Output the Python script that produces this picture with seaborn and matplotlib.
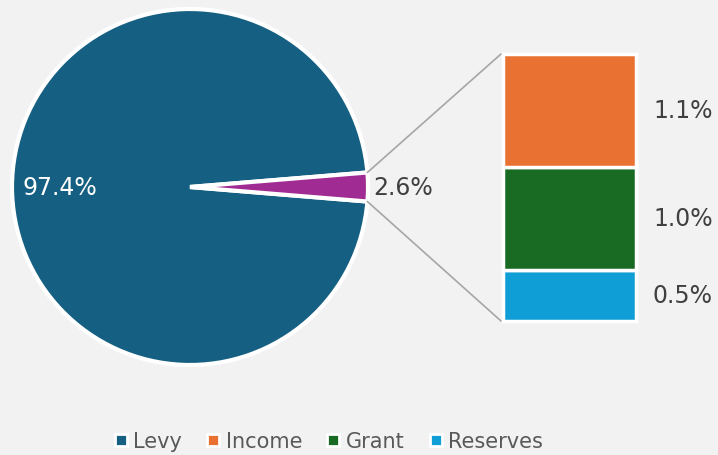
import matplotlib
matplotlib.use("Agg")
import matplotlib.pyplot as plt
from matplotlib.lines import Line2D
import numpy as np
import seaborn as sns

# data
pie_labels = ["Levy", "Other"]
pie_values = [97.4, 2.6]
bar_labels = ["Reserves", "Grant", "Income"]   # bottom to top
bar_values = [0.5, 1.0, 1.1]
legend_order = ["Levy", "Income", "Grant", "Reserves"]

colors = {"Levy": "#156082", "Other": "#A02B93", "Income": "#E97132",
          "Grant": "#196B24", "Reserves": "#0F9ED5"}

sns.set_theme(style="white", rc={"figure.facecolor": "#f2f2f2",
                                  "axes.facecolor": "#f2f2f2"})
plt.rcParams["font.family"] = ["DejaVu Sans"]

W, H = 718, 456
fig = plt.figure(figsize=(W / 100, H / 100), dpi=100)
ax = fig.add_axes([0, 0, 1, 1])

# pie (pixel coordinates, y measured from bottom)
cx, cy, r = 190, H - 188, 178
other_angle = pie_values[1] / sum(pie_values) * 360
start = other_angle / 2
ax.pie(pie_values, colors=[colors[k] for k in pie_labels], startangle=start,
       center=(cx, cy), radius=r, frame=True,
       wedgeprops=dict(edgecolor="white", linewidth=3))
ax.set_xlim(0, W)
ax.set_ylim(0, H)
ax.axis("off")

ax.text(22, cy, f"{pie_values[0]:.1f}%", color="white", fontsize=17,
        ha="left", va="center")
ax.text(373, cy, f"{pie_values[1]:.1f}%", color="#404040", fontsize=17,
        ha="left", va="center")

# stacked bar
bx, bw = 569.5, 133
b_bottom = H - 322
scale = 267 / sum(bar_values)
bottom = b_bottom
for lab, v in zip(bar_labels, bar_values):
    h = v * scale
    ax.bar(bx, h, width=bw, bottom=bottom, color=colors[lab],
           edgecolor="white", linewidth=2.5)
    ax.text(653, bottom + h / 2, f"{v:.1f}%", color="#404040", fontsize=17,
            ha="left", va="center")
    bottom += h
b_top = bottom

# connector lines
a = np.deg2rad(start)
ax.plot([cx + r * np.cos(a), bx - bw / 2 - 2], [cy + r * np.sin(a), b_top],
        color="#a6a6a6", lw=1.2)
ax.plot([cx + r * np.cos(a), bx - bw / 2 - 2], [cy - r * np.sin(a), b_bottom],
        color="#a6a6a6", lw=1.2)

handles = [Line2D([], [], marker="s", ls="", markersize=9,
                  markerfacecolor=colors[k], markeredgecolor="white",
                  markeredgewidth=2) for k in legend_order]
fig.legend(handles, legend_order, loc="center", ncol=4, frameon=False,
           bbox_to_anchor=(0.458, 0.03), fontsize=15, handlelength=0.6,
           handletextpad=0.3, columnspacing=1.2, labelcolor="#595959")

fig.savefig("out.png", dpi=100, facecolor=fig.get_facecolor())
